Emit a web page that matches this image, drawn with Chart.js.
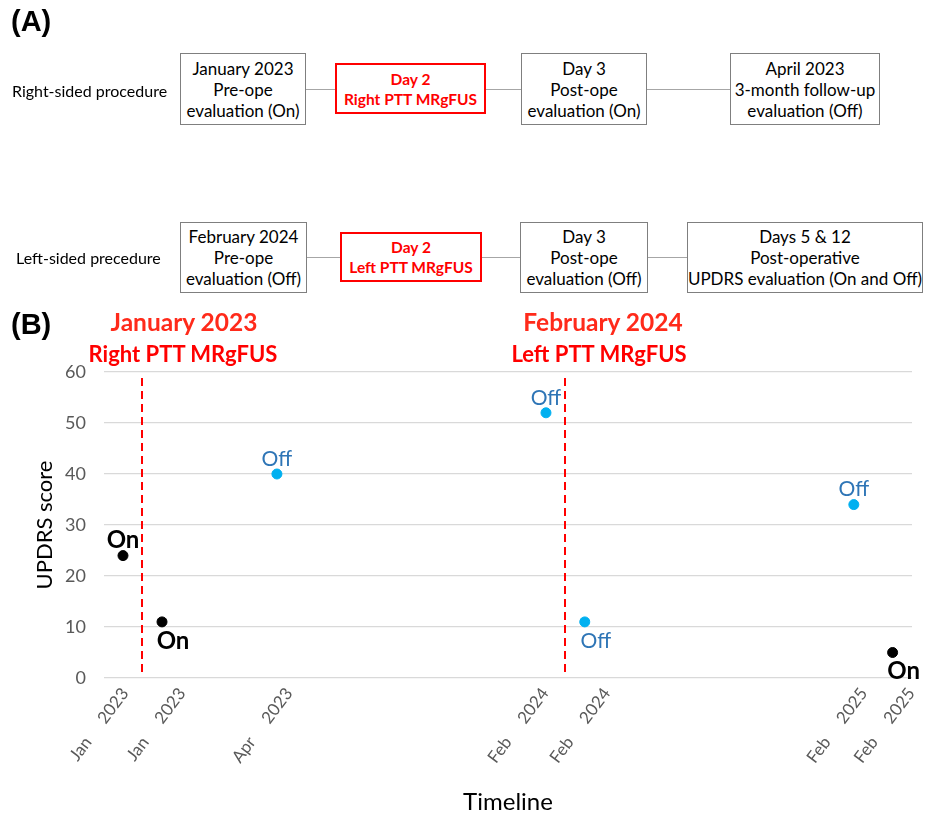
<!DOCTYPE html>
<html>
<head>
<meta charset="utf-8">
<script src="https://cdn.jsdelivr.net/npm/chart.js@4.4.1/dist/chart.umd.min.js"></script>
<style>
  body { margin: 0; background: #fff; font-family: Lato, "Open Sans", sans-serif; }
  #page { position: relative; width: 927px; height: 818px; overflow: hidden; }
  #chartCanvas { position: absolute; left: 0; top: 0; }
  .panel { position: absolute; font-family: "Liberation Sans", Arial, sans-serif; font-weight: bold; font-size: 29px; color: #000; }
  .rowlabel { position: absolute; font-size: 16px; color: #000; transform: translateY(-50%); white-space: nowrap; }
  .box { position: absolute; box-sizing: border-box; border: 1.5px solid #7f7f7f; background: #fff;
         display: flex; align-items: center; justify-content: center; text-align: center;
         font-size: 17px; line-height: 21px; color: #000; white-space: nowrap; }
  .box.red { border: 2px solid #ff0000; color: #ff0000; font-weight: bold; font-size: 15.5px; line-height: 20px; }
  .conn { position: absolute; height: 0; border-top: 1.5px solid #a6a6a6; }
  .redtitle { position: absolute; transform: translateX(-50%); font-weight: bold; color: #ff2a1a; font-size: 24.5px; white-space: nowrap; }
  .redtitle.sub { color: #ff0000; font-size: 22px; }
</style>
</head>
<body>
<div id="page">
  <canvas id="chartCanvas" width="927" height="818"></canvas>

  <div class="panel" style="left:11px; top:5px;">(A)</div>

  <!-- right-sided row -->
  <div class="rowlabel" style="left:12px; top:90px;">Right-sided procedure</div>
  <div class="conn" style="left:305px; width:31px; top:89px;"></div>
  <div class="conn" style="left:485px; width:36px; top:89px;"></div>
  <div class="conn" style="left:646px; width:84px; top:89px;"></div>
  <div class="box" style="left:180px; top:53px; width:126px; height:72px;">January 2023<br>Pre-ope<br>evaluation (On)</div>
  <div class="box red" style="left:335px; top:63px; width:151px; height:51px;">Day 2<br>Right PTT MRgFUS</div>
  <div class="box" style="left:521px; top:53px; width:126px; height:72px;">Day 3<br>Post-ope<br>evaluation (On)</div>
  <div class="box" style="left:730px; top:53px; width:150px; height:72px;">April 2023<br>3-month follow-up<br>evaluation (Off)</div>

  <!-- left-sided row -->
  <div class="rowlabel" style="left:16px; top:257px;">Left-sided precedure</div>
  <div class="conn" style="left:306px; width:34px; top:257px;"></div>
  <div class="conn" style="left:481px; width:39px; top:257px;"></div>
  <div class="conn" style="left:647px; width:40px; top:257px;"></div>
  <div class="box" style="left:180px; top:222px; width:127px; height:71px;">February 2024<br>Pre-ope<br>evaluation (Off)</div>
  <div class="box red" style="left:340px; top:232px; width:142px; height:50px;">Day 2<br>Left PTT MRgFUS</div>
  <div class="box" style="left:520px; top:222px; width:128px; height:71px;">Day 3<br>Post-ope<br>evaluation (Off)</div>
  <div class="box" style="left:687px; top:222px; width:236px; height:71px;">Days 5 &amp; 12<br>Post-operative<br>UPDRS evaluation (On and Off)</div>

  <div class="panel" style="left:11px; top:308px;">(B)</div>
  <div class="redtitle" style="left:184px; top:307px;">January 2023</div>
  <div class="redtitle sub" style="left:183px; top:340px;">Right PTT MRgFUS</div>
  <div class="redtitle" style="left:603px; top:307px;">February 2024</div>
  <div class="redtitle sub" style="left:599px; top:340px;">Left PTT MRgFUS</div>
</div>

<script>
// timeline positions (0-100) and UPDRS scores
var onX = [2.35, 7.18, 97.6];
var onY = [24, 11, 5];
var onSide = ['above', 'below', 'below'];

var offX = [21.4, 54.7, 59.5, 92.8];
var offY = [40, 52, 11, 34];
var offSide = ['above', 'above', 'below', 'above'];

var tickPos = [2.6, 9.66, 22.9, 54.58, 62.24, 94.04, 99.9];
var tickLabels = ['Jan', 'Jan', 'Apr', 'Feb', 'Feb', 'Feb', 'Feb'];
var tickYears = ['2023', '2023', '2023', '2024', '2024', '2025', '2025'];

var surgeryX = [4.7, 57.05];

var FONT = 'Lato, "Open Sans", sans-serif';

function toPoints(xs, ys) {
    return xs.map(function (x, i) { return { x: x, y: ys[i] }; });
}

// dashed surgery lines + On/Off labels
var annotations = {
    id: 'annotations',
    afterDatasetsDraw: function (chart) {
        var ctx = chart.ctx;
        var xs = chart.scales.x, ys = chart.scales.y;
        ctx.save();
        ctx.strokeStyle = '#ff0000';
        ctx.lineWidth = 2;
        ctx.setLineDash([8, 5]);
        surgeryX.forEach(function (v) {
            var px = Math.round(xs.getPixelForValue(v));
            ctx.beginPath();
            ctx.moveTo(px, ys.top + 6);
            ctx.lineTo(px, ys.bottom - 4);
            ctx.stroke();
        });
        ctx.setLineDash([]);

        ctx.textAlign = 'center';
        ctx.textBaseline = 'middle';
        function label(xsArr, ysArr, sides, text, font, color) {
            ctx.font = font;
            ctx.fillStyle = color;
            xsArr.forEach(function (v, i) {
                var px = xs.getPixelForValue(v);
                var py = ys.getPixelForValue(ysArr[i]);
                if (sides[i] === 'above') {
                    ctx.fillText(text, px, py - 15);
                } else {
                    ctx.fillText(text, px + 11, py + 19);
                }
            });
        }
        label(onX, onY, onSide, 'On', 'bold 24px ' + FONT, '#000000');
        label(offX, offY, offSide, 'Off', '21px ' + FONT, '#2e75b6');
        ctx.restore();
    }
};

var ctx = document.getElementById('chartCanvas').getContext('2d');

var chart = new Chart(ctx, {
    type: 'scatter',
    data: {
        datasets: [{
            label: 'On',
            data: toPoints(onX, onY),
            backgroundColor: '#000000',
            borderColor: '#000000',
            pointRadius: 5,
            pointHoverRadius: 5
        }, {
            label: 'Off',
            data: toPoints(offX, offY),
            backgroundColor: '#00b0f0',
            borderColor: '#00b0f0',
            pointRadius: 5,
            pointHoverRadius: 5
        }]
    },
    options: {
        responsive: false,
        animation: false,
        events: [],
        layout: { padding: { left: 0, right: 15, top: 372, bottom: 0 } },
        plugins: {
            legend: { display: false },
            tooltip: { enabled: false }
        },
        scales: {
            x: {
                type: 'linear',
                min: 0,
                max: 100,
                grid: { display: false, drawTicks: false },
                border: { display: false },
                afterBuildTicks: function (scale) {
                    scale.ticks = tickPos.map(function (v) { return { value: v }; });
                },
                afterFit: function (scale) {
                    scale.height = 140;
                    scale.paddingLeft = 0;
                    scale.paddingRight = 0;
                },
                ticks: {
                    autoSkip: false,
                    minRotation: 53,
                    maxRotation: 53,
                    padding: 6,
                    color: '#595959',
                    font: { family: FONT, size: 17 },
                    callback: function (value, index) {
                        return tickLabels[index] + '     ' + tickYears[index];
                    }
                },
                title: {
                    display: true,
                    text: 'Timeline',
                    color: '#000000',
                    font: { family: FONT, size: 24 },
                    padding: { top: 0, bottom: 1 }
                }
            },
            y: {
                min: 0,
                max: 60,
                grid: { color: '#d9d9d9', lineWidth: 1.3, drawTicks: false },
                border: { display: false },
                afterFit: function (scale) { scale.width = 104; },
                ticks: {
                    stepSize: 10,
                    padding: 18,
                    color: '#595959',
                    font: { family: FONT, size: 18 }
                },
                title: {
                    display: true,
                    text: 'UPDRS score',
                    color: '#000000',
                    font: { family: FONT, size: 22 },
                    padding: { top: 32, bottom: 0 }
                }
            }
        }
    },
    plugins: [annotations]
});
</script>
</body>
</html>
